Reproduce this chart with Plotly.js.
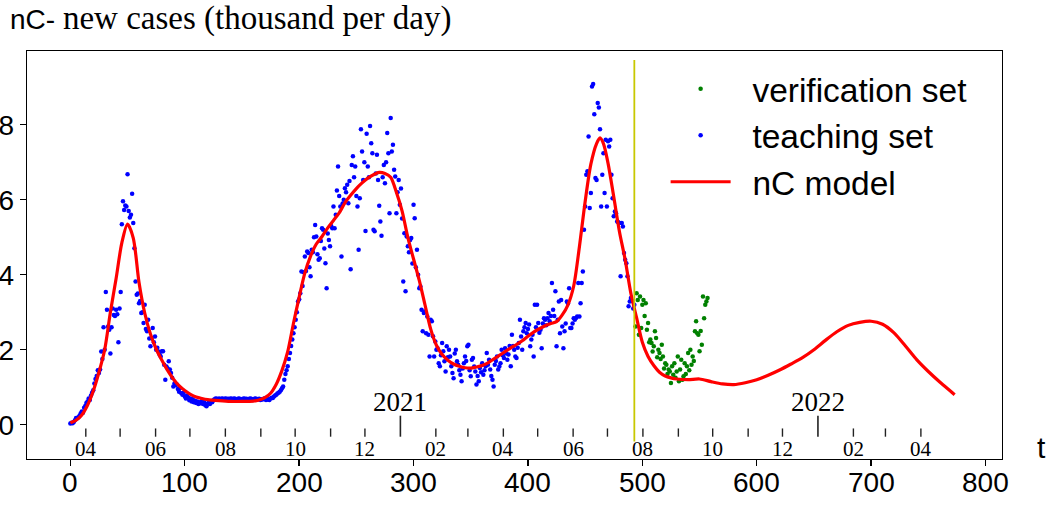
<!DOCTYPE html>
<html>
<head>
<meta charset="utf-8">
<script src="https://cdn.plot.ly/plotly-3.0.1.min.js"></script>
<style>html,body{margin:0;padding:0;background:#fff;}#chart{width:1056px;height:506px;}</style>
</head>
<body>
<div id="chart"></div>
<script>
// ---- data ----
// teaching set: daily new cases (thousand/day), day t = 0 .. 493
const teachStart = 0;
const teachValues = [
0.03,0.05,0.04,0.07,0.12,0.18,0.17,0.2,0.24,0.3,
0.35,0.32,0.45,0.5,0.58,0.62,0.7,0.66,0.78,0.85,
0.92,1.1,1.22,1.3,1.45,1.38,1.47,1.95,1.75,2.6,
2.0,3.54,3.07,2.62,2.53,1.9,2.6,3.1,2.93,2.9,
3.07,2.95,2.2,3.1,3.54,5.35,5.96,5.73,5.85,5.82,
6.68,5.7,5.53,5.6,6.16,5.38,4.71,3.82,3.47,3.5,
3.24,3.3,2.98,3.0,2.71,3.2,2.55,2.49,2.8,2.3,
2.09,2.31,2.58,2.2,2.35,2.0,2.05,1.95,1.87,1.82,
1.96,1.96,1.6,1.2,1.55,1.5,1.69,1.47,1.38,1.25,
1.02,1.1,1.05,1.07,0.95,0.88,0.98,0.84,0.8,0.85,
0.75,0.7,0.78,0.72,0.65,0.7,0.62,0.68,0.6,0.64,
0.58,0.62,0.55,0.6,0.57,0.63,0.55,0.6,0.52,0.49,
0.56,0.6,0.55,0.62,0.6,0.65,0.68,0.7,0.69,0.67,
0.7,0.68,0.69,0.7,0.67,0.69,0.7,0.68,0.69,0.67,
0.7,0.69,0.68,0.7,0.69,0.67,0.68,0.7,0.69,0.68,
0.67,0.69,0.7,0.68,0.69,0.67,0.68,0.7,0.69,0.66,
0.68,0.69,0.7,0.67,0.68,0.69,0.66,0.68,0.67,0.69,
0.7,0.66,0.67,0.68,0.66,0.7,0.72,0.71,0.75,0.78,
0.8,0.83,0.85,0.88,0.92,0.97,1.02,1.2,1.35,1.45,
1.56,1.75,1.91,2.1,2.27,2.44,2.6,2.8,3.0,3.29,
3.35,3.51,4.09,3.7,4.07,4.49,4.1,4.62,4.58,4.2,
3.96,4.67,4.6,5.0,5.33,5.02,4.55,4.4,4.44,4.9,
5.24,5.2,4.7,4.31,3.64,5.1,4.93,4.76,5.3,5.24,
5.82,5.24,5.6,6.25,6.89,6.1,5.82,4.49,5.9,6.0,
6.31,6.2,6.4,5.91,6.5,4.15,6.93,7.16,6.6,6.89,
6.1,5.82,4.67,6.04,7.88,7.29,6.53,7.0,5.17,7.76,
6.89,6.6,7.97,7.51,7.24,5.2,5.16,6.7,7.2,6.53,
5.84,5.42,5.04,6.6,6.93,6.44,7.0,7.78,7.24,5.64,
8.18,7.29,7.47,6.8,6.62,5.64,6.2,6.53,5.87,6.3,
5.5,3.82,5.11,3.56,5.02,4.76,4.6,4.93,4.98,4.3,
5.87,5.51,4.2,4.67,4.0,3.64,3.69,3.07,2.49,2.98,
3.02,2.44,2.89,2.4,1.82,2.8,2.76,2.36,1.82,2.22,
2.0,2.04,1.64,1.56,1.85,2.18,1.96,1.69,1.42,2.09,
1.8,2.0,1.82,1.56,1.38,1.24,1.9,2.0,1.69,1.6,
1.45,1.33,1.16,1.5,1.64,1.82,1.7,2.09,2.13,1.45,
1.29,1.73,1.78,1.55,1.42,1.07,1.3,1.16,1.51,1.4,
1.64,1.33,1.45,1.56,1.91,1.6,1.73,1.47,1.3,1.2,
1.02,1.6,1.7,1.82,1.47,1.55,1.64,2.0,1.85,1.78,
2.04,1.9,1.73,1.87,2.1,1.56,2.4,2.1,2.0,1.82,
1.78,2.05,2.18,2.8,2.35,2.0,2.49,2.6,2.71,2.44,
2.55,2.67,2.09,2.27,2.4,1.82,3.2,2.6,3.2,2.71,
2.45,2.53,2.04,2.7,2.84,2.8,2.65,2.84,2.98,2.76,
2.9,3.78,3.07,2.9,3.56,2.09,2.8,3.29,2.44,3.33,
2.62,2.04,2.49,2.7,3.29,3.24,3.64,2.58,2.58,2.7,
2.84,2.8,2.85,2.89,3.78,2.89,3.24,3.78,4.09,5.2,
5.82,6.67,6.76,7.69,5.78,6.18,9.02,9.09,8.28,6.58,
6.53,8.58,8.46,7.88,5.82,6.67,7.24,6.18,7.6,5.82,
7.56,7.42,7.6,6.67,6.04,5.56,5.69,5.64,5.42,5.4,
5.38,3.96,5.38,5.29,4.58,4.4,4.31,3.96,3.16,3.29,
3.38,3.3,3.1,3.2
];

// verification set: day t = 494 .. 557
const verStart = 494;
const verValues = [
2.62,3.51,3.33,2.4,3.42,2.58,3.2,3.33,2.9,3.24,
2.53,2.71,2.2,2.27,2.18,1.95,2.09,2.49,2.31,1.8,
2.0,1.91,1.75,2.13,1.82,1.5,1.64,1.6,1.35,1.47,
1.42,1.11,1.56,1.33,1.64,1.25,1.42,1.82,1.16,1.47,
1.73,1.2,1.29,1.64,1.35,1.56,1.91,1.45,2.0,1.6,
1.82,1.7,2.49,2.76,2.44,2.4,1.96,2.5,2.13,3.42,
2.84,3.2,3.29,3.38
];

// nC model curve
const modelT = [0,5,10,15,20,25,30,35,40,45,50,55,60,65,70,75,80,85,90,95,
100,105,110,115,120,130,140,150,160,165,170,175,180,185,190,195,200,205,210,215,
220,225,230,235,240,245,250,255,260,265,270,275,280,285,290,295,300,305,310,315,
320,325,330,335,340,345,350,355,360,365,370,375,380,385,390,395,400,405,410,415,
420,425,430,435,440,445,450,455,460,463,466,470,475,480,485,490,495,500,505,510,
515,520,525,530,540,550,560,570,580,590,600,610,620,630,640,650,660,670,680,690,
700,710,720,730,740,750,760,770,773];
const modelV = [0.05,0.12,0.26,0.52,0.9,1.4,2.0,3.0,3.9,4.85,5.35,4.98,3.8,2.98,2.42,2.02,1.72,1.45,1.22,1.04,
0.91,0.81,0.74,0.7,0.67,0.64,0.62,0.62,0.63,0.66,0.72,0.84,1.08,1.45,1.95,2.7,3.4,4.05,4.5,4.82,
5.02,5.25,5.45,5.65,5.92,6.12,6.3,6.45,6.58,6.67,6.73,6.7,6.6,6.2,5.7,5.0,4.42,3.85,3.2,2.55,
2.12,1.87,1.72,1.62,1.56,1.52,1.51,1.54,1.58,1.65,1.75,1.85,1.95,2.05,2.14,2.24,2.36,2.47,2.56,2.64,
2.7,2.75,2.93,3.2,3.7,4.75,5.95,6.95,7.5,7.65,7.5,6.98,6.08,5.15,4.4,3.5,2.85,2.2,1.82,1.58,
1.4,1.3,1.25,1.22,1.2,1.22,1.15,1.09,1.07,1.12,1.2,1.32,1.46,1.62,1.79,2.0,2.25,2.48,2.65,2.73,
2.76,2.68,2.45,2.1,1.73,1.42,1.14,0.88,0.8];

// boundary between teaching and verification sets (day)
const splitT = 493;

// calendar months under the axis (t = 0 is 2020-03-18 12:00)
const startDate = Date.UTC(2020, 2, 18, 12);
const monthStarts = ['2020-04','2020-05','2020-06','2020-07','2020-08','2020-09','2020-10','2020-11','2020-12',
'2021-01','2021-02','2021-03','2021-04','2021-05','2021-06','2021-07','2021-08','2021-09','2021-10','2021-11','2021-12',
'2022-01','2022-02','2022-03','2022-04'];
const monthLabels = ['04','','06','','08','','10','','12','2021','02','','04','','06','','08','','10','','12','2022','02','','04'];

const xTickVals = [0,100,200,300,400,500,600,700,800];
const xTickText = ['0','100','200','300','400','500','600','700','800'];
const yTickVals = [0,2,4,6,8];
const yTickText = ['0','2','4','6','8'];

// ---- build ----
const teachT = teachValues.map((_, i) => teachStart + i);
const verT = verValues.map((_, i) => verStart + i);

const traces = [
  {x: teachT, y: teachValues, type: 'scatter', mode: 'markers', name: '\u2002teaching set',
   marker: {color: '#0000ff', size: 4.5}, legendrank: 2},
  {x: verT, y: verValues, type: 'scatter', mode: 'markers', name: '\u2002verification set',
   marker: {color: '#008000', size: 4.5}, legendrank: 1},
  {x: modelT, y: modelV, type: 'scatter', mode: 'lines', name: '\u2002nC model',
   line: {color: '#ff0000', width: 3.2, shape: 'spline', smoothing: 0.8}, legendrank: 3},
  {x: [splitT, splitT], y: [-0.45, 9.73], type: 'scatter', mode: 'lines', showlegend: false,
   line: {color: '#c8c800', width: 1.8}, hoverinfo: 'skip'}
];

const shapes = [];
const annotations = [];
monthStarts.forEach((m, i) => {
  const [yy, mm] = m.split('-').map(Number);
  const t = (Date.UTC(yy, mm - 1, 1) - startDate) / 86400000;
  const isYear = mm === 1;
  shapes.push({type: 'line', xref: 'x', yref: 'y', x0: t, x1: t,
    y0: isYear ? 0.24 : -0.1, y1: -0.32, line: {color: '#222', width: isYear ? 1.6 : 1.4}});
  const lab = monthLabels[i];
  if (!lab) return;
  if (isYear) {
    annotations.push({x: t, y: 0.6, xref: 'x', yref: 'y', text: lab, showarrow: false,
      font: {family: 'Liberation Serif', size: 27, color: '#000'}, xanchor: 'center', yanchor: 'middle'});
  } else {
    annotations.push({x: t, y: -0.64, xref: 'x', yref: 'y', text: lab, showarrow: false,
      font: {family: 'Liberation Serif', size: 21, color: '#000'}, xanchor: 'center', yanchor: 'middle'});
  }
});

// x tick labels (placed closer to the axis than Plotly's default)
xTickVals.forEach((v, i) => {
  annotations.push({x: v, xref: 'x', y: -0.057, yref: 'paper', text: xTickText[i], showarrow: false,
    xanchor: 'center', yanchor: 'middle', font: {family: 'Liberation Sans', size: 28, color: '#000'}});
});

// title (sans + serif) and axis label "t"
annotations.push({xref: 'paper', yref: 'paper', x: -0.02, y: 1.08, xanchor: 'left', yanchor: 'middle',
  showarrow: false,
  text: '<span style="font-family:Liberation Sans">nC- </span><span style="font-family:Liberation Serif;font-size:33px">new cases (thousand per day)</span>',
  font: {family: 'Liberation Sans', size: 28, color: '#000'}});
annotations.push({xref: 'paper', yref: 'paper', x: 1.04, y: 0.027, xanchor: 'center', yanchor: 'middle',
  showarrow: false, text: 't', font: {family: 'Liberation Sans', size: 30, color: '#000'}});

const axisCommon = {showgrid: false, zeroline: false, showline: true, mirror: true,
  linecolor: '#000', linewidth: 1.3, ticks: 'outside', ticklen: 6, tickwidth: 1.3, tickcolor: '#000',
  tickfont: {family: 'Liberation Sans', size: 28, color: '#000'}};

const layout = {
  width: 1056, height: 506,
  margin: {l: 27, r: 54, t: 51, b: 47, pad: 0},
  paper_bgcolor: '#fff', plot_bgcolor: '#fff',
  xaxis: Object.assign({}, axisCommon, {range: [-37.9, 814.4], tickvals: xTickVals, showticklabels: false}),
  yaxis: Object.assign({}, axisCommon, {range: [-0.915, 9.97], tickvals: yTickVals, ticktext: yTickText}),
  showlegend: true,
  legend: {x: 0.655, y: 0.977, xanchor: 'left', yanchor: 'top', bgcolor: 'rgba(0,0,0,0)',
    font: {family: 'Liberation Sans', size: 33.5, color: '#000'}, itemwidth: 60, tracegroupgap: 0},
  shapes: shapes,
  annotations: annotations
};

Plotly.newPlot('chart', traces, layout, {displayModeBar: false, staticPlot: true});
</script>
</body>
</html>
